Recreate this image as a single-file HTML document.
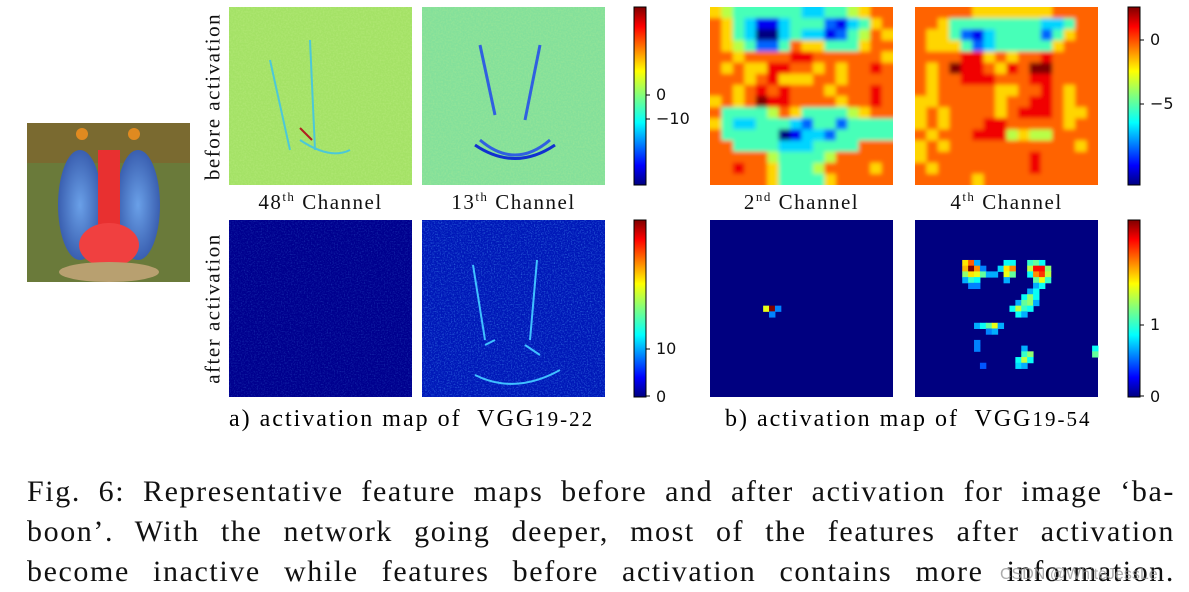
<!DOCTYPE html>
<html><head><meta charset="utf-8"><style>
body{margin:0;background:#fff;width:1189px;height:592px;overflow:hidden;position:relative;font-family:"Liberation Serif",serif}
.abs{position:absolute}
.lbl{font-size:21px;color:#111;white-space:nowrap;letter-spacing:1.5px}
.tk{font-family:"DejaVu Sans","Liberation Sans",sans-serif;font-size:16px;color:#111}
.cap{font-size:30px;color:#111;left:27px;width:1148px;text-align:justify;text-align-last:justify;white-space:nowrap;letter-spacing:1.6px;overflow:hidden}
</style></head><body>
<svg class="abs" style="left:0;top:0" width="1189" height="592" id="svg">
<defs>
<filter id="noise1" x="0" y="0" width="100%" height="100%"><feTurbulence type="fractalNoise" baseFrequency="0.6" numOctaves="2" seed="3"/><feColorMatrix type="matrix" values="0 0 0 0 0.6  0 0 0 0 0.9  0 0 0 0 0.3  0 0 0 1.2 -0.45"/></filter>
<filter id="noise2" x="0" y="0" width="100%" height="100%"><feTurbulence type="fractalNoise" baseFrequency="0.7" numOctaves="2" seed="7"/><feColorMatrix type="matrix" values="0 0 0 0 0.1  0 0 0 0 0.45  0 0 0 0 1  0 0 0 1.6 -0.75"/></filter>
<linearGradient id="jet" x1="0" y1="1" x2="0" y2="0">
<stop offset="0" stop-color="#00007f"/><stop offset="0.11" stop-color="#0000ff"/><stop offset="0.35" stop-color="#00ffff"/><stop offset="0.5" stop-color="#7fff7f"/><stop offset="0.64" stop-color="#ffff00"/><stop offset="0.89" stop-color="#ff0000"/><stop offset="1" stop-color="#7f0000"/></linearGradient>
<radialGradient id="cheek" cx="0.5" cy="0.5" r="0.5"><stop offset="0" stop-color="#6aa0e8"/><stop offset="1" stop-color="#3a5fb0"/></radialGradient>
<clipPath id="c3"><rect x="710" y="7" width="183" height="178"/></clipPath>
<clipPath id="c4"><rect x="915" y="7" width="183" height="178"/></clipPath>
<filter id="soft"><feGaussianBlur stdDeviation="2.2"/></filter>
</defs>
<g>
<rect x="27" y="123" width="163" height="159" fill="#6a7a3a"/>
<rect x="27" y="123" width="163" height="40" fill="#7a6a30"/>
<ellipse cx="80" cy="205" rx="22" ry="55" fill="url(#cheek)"/>
<ellipse cx="138" cy="205" rx="22" ry="55" fill="url(#cheek)"/>
<rect x="98" y="150" width="22" height="90" fill="#e83030"/>
<ellipse cx="109" cy="245" rx="30" ry="22" fill="#f04040"/>
<circle cx="82" cy="134" r="6" fill="#e08a20"/><circle cx="134" cy="134" r="6" fill="#e08a20"/>
<ellipse cx="109" cy="272" rx="50" ry="10" fill="#b8a070"/>
</g>
<g>
<rect x="229" y="7" width="183" height="178" fill="#a4e266"/>
<rect x="229" y="7" width="183" height="178" filter="url(#noise1)" opacity="0.5"/>
<path d="M270 60 L290 150 M310 40 L315 150 M300 140 Q330 160 350 150" stroke="#4cc8d8" stroke-width="2" fill="none"/>
<path d="M300 128 L312 140" stroke="#b02020" stroke-width="2"/>
</g>
<g>
<rect x="422" y="7" width="183" height="178" fill="#84e09a"/>
<rect x="422" y="7" width="183" height="178" filter="url(#noise1)" opacity="0.4"/>
<path d="M480 45 L495 115 M540 45 L525 120 M480 140 Q515 170 550 140" stroke="#3060e0" stroke-width="3" fill="none"/>
<path d="M475 145 Q515 172 555 145" stroke="#1030d0" stroke-width="3" fill="none"/>
</g>
<g>
<rect x="229" y="220" width="183" height="177" fill="#00008e"/>
<rect x="229" y="220" width="183" height="177" filter="url(#noise2)" opacity="0.35"/>
</g>
<g>
<rect x="422" y="220" width="183" height="177" fill="#0018b8"/>
<rect x="422" y="220" width="183" height="177" filter="url(#noise2)" opacity="0.7"/>
<path d="M473 265 L485 340 M537 260 L530 340 M485 345 L495 340 M525 345 L540 355 M475 375 Q515 395 560 370" stroke="#40c0ff" stroke-width="2" fill="none"/>
</g>
<rect x="634" y="7" width="12" height="178" fill="url(#jet)" stroke="#000" stroke-width="1"/>
<rect x="634" y="220" width="12" height="177" fill="url(#jet)" stroke="#000" stroke-width="1"/>
<rect x="1128" y="7" width="12" height="178" fill="url(#jet)" stroke="#000" stroke-width="1"/>
<rect x="1128" y="220" width="12" height="177" fill="url(#jet)" stroke="#000" stroke-width="1"/>
<g stroke="#000" stroke-width="1">
<line x1="646" y1="95" x2="650" y2="95"/><line x1="646" y1="119" x2="650" y2="119"/>
<line x1="646" y1="349" x2="650" y2="349"/><line x1="646" y1="396" x2="650" y2="396"/>
<line x1="1140" y1="40" x2="1144" y2="40"/><line x1="1140" y1="104" x2="1144" y2="104"/>
<line x1="1140" y1="325" x2="1144" y2="325"/><line x1="1140" y1="396" x2="1144" y2="396"/>
</g>
<g clip-path="url(#c3)"><g id="hm3" filter="url(#soft)"></g></g>
<g clip-path="url(#c4)"><g id="hm4" filter="url(#soft)"></g></g>
<g id="hm"></g>
</svg>

<div class="abs lbl" style="left:113px;top:84px;transform:rotate(-90deg);transform-origin:center;width:200px;text-align:center">before activation</div>
<div class="abs lbl" style="left:113px;top:296px;transform:rotate(-90deg);transform-origin:center;width:200px;text-align:center">after activation</div>

<div class="abs lbl" style="left:229px;top:189px;width:183px;text-align:center">48<sup style="font-size:13px">th</sup> Channel</div>
<div class="abs lbl" style="left:422px;top:189px;width:183px;text-align:center">13<sup style="font-size:13px">th</sup> Channel</div>
<div class="abs lbl" style="left:710px;top:189px;width:183px;text-align:center">2<sup style="font-size:13px">nd</sup> Channel</div>
<div class="abs lbl" style="left:915px;top:189px;width:183px;text-align:center">4<sup style="font-size:13px">th</sup> Channel</div>

<div class="abs tk" style="left:656px;top:85px">0</div>
<div class="abs tk" style="left:656px;top:109px">−10</div>
<div class="abs tk" style="left:656px;top:339px">10</div>
<div class="abs tk" style="left:656px;top:387px">0</div>
<div class="abs tk" style="left:1150px;top:30px">0</div>
<div class="abs tk" style="left:1150px;top:94px">−5</div>
<div class="abs tk" style="left:1150px;top:315px">1</div>
<div class="abs tk" style="left:1150px;top:387px">0</div>

<div class="abs" style="left:229px;top:406px;font-size:24px;letter-spacing:2px;white-space:nowrap">a) activation map of&nbsp; VGG<span style="font-size:21px">19-22</span></div>
<div class="abs" style="left:725px;top:406px;font-size:24px;letter-spacing:2px;width:374px;overflow:hidden;white-space:nowrap">b) activation map of&nbsp; VGG<span style="font-size:21px">19-54</span></div>

<div class="abs cap" style="top:475px">Fig. 6: Representative feature maps before and after activation for image ‘ba-</div>
<div class="abs cap" style="top:515px">boon’. With the network going deeper, most of the features after activation</div>
<div class="abs cap" style="top:555px">become inactive while features before activation contains more information.</div>
<div class="abs" style="left:1000px;top:566px;font-family:'Liberation Sans',sans-serif;font-size:16px;color:rgba(150,150,150,0.8)">CSDN @WhiteJessLe</div>

<script>
const map2nd=["6544444433445677","7643113444213467","7643003433124576","7654224766444677","7767777887777776","7676688776767787","7776786667767777","7767878777677787","6767988777767787","7444457644445677","6433444324424444","7444440133244444","7744443334444777","7777754444577777","7787764445777767","7777764444677777"];
const map4th=["7777766666667777","7764444444433477","7664213444424677","7666423444446777","7777886767787777","7679887687997777","7677888777887777","7677777667787677","6677777677887677","6767777678887667","6767778877777677","7677788856557777","6767777777777767","6777777777877777","7677777777877777","7777767777777777"];
const after2nd=[[15,9,.55],[15,10,1],[15,11,.15],[16,10,.15]];
const after4th=[[7,8,.6],[7,9,.75],[7,10,.2],[8,8,.65],[8,9,1],[8,10,.7],[8,11,.15],[9,8,.45],[9,9,.6],[9,10,.55],[9,11,.4],[9,12,.2],[9,13,.2],[10,8,.2],[10,9,.35],[10,10,.3],[11,9,.15],[11,10,.15],
[7,15,.3],[7,16,.3],[8,14,.25],[8,15,.6],[8,16,.7],[9,15,.55],[9,16,.4],[10,15,.2],
[7,19,.35],[7,20,.4],[7,21,.3],[8,19,.5],[8,20,.85],[8,21,.85],[8,22,.45],[9,19,.3],[9,20,.7],[9,21,.8],[9,22,.5],[10,20,.4],[10,21,.55],[10,22,.35],[11,20,.2],[11,21,.3],
[12,19,.2],[12,20,.3],[13,18,.3],[13,19,.45],[13,20,.3],[14,17,.2],[14,18,.4],[14,19,.45],[14,20,.2],[15,16,.3],[15,17,.5],[15,18,.35],[15,19,.3],[16,17,.3],[16,18,.2],
[18,10,.2],[18,11,.3],[18,12,.4],[18,13,.55],[18,14,.2],[19,12,.15],[19,13,.2],
[22,18,.2],[23,18,.35],[23,19,.45],[24,17,.3],[24,18,.5],[24,19,.3],[25,17,.25],[25,18,.2],[21,10,.15],[22,10,.15],[25,11,.1],[22,30,.3],[23,30,.4]];
function jet(v){v=Math.max(0,Math.min(1,v));
 const r=Math.max(0,Math.min(1,1.5-Math.abs(4*v-3))),g=Math.max(0,Math.min(1,1.5-Math.abs(4*v-2))),b=Math.max(0,Math.min(1,1.5-Math.abs(4*v-1)));
 return `rgb(${Math.round(r*255)},${Math.round(g*255)},${Math.round(b*255)})`;}
const NS="http://www.w3.org/2000/svg";
function cell(parent,x,y,w,h,c,name){const r=document.createElementNS(NS,'rect');r.setAttribute('x',x);r.setAttribute('y',y);r.setAttribute('width',w+0.5);r.setAttribute('height',h+0.5);r.setAttribute('fill',c);


parent.appendChild(r);}
function grid(parent,rows,x0,y0,W,H,name){const n=rows.length,m=rows[0].length,cw=W/m,ch=H/n;
 rows.forEach((row,i)=>{for(let j=0;j<m;j++){
  let x=x0+j*cw,y=y0+i*ch,w=cw,h=ch;
  if(j===0){x-=6;w+=6;} if(j===m-1){w+=6;} if(i===0){y-=6;h+=6;} if(i===n-1){h+=6;}
  cell(parent,x,y,w,h,jet(+row[j]/9),name);}});}
function sparse(parent,pts,x0,y0,W,H,name){cell(parent,x0,y0,W-0.5,H-0.5,jet(0),name+'-bg');const cw=W/31,ch=H/31;
 pts.forEach(p=>cell(parent,x0+p[1]*cw,y0+p[0]*ch,cw,ch,jet(0.12+p[2]*0.88),name));}
grid(document.getElementById('hm3'),map2nd,710,7,183,178,'map-2nd-before-cell');
grid(document.getElementById('hm4'),map4th,915,7,183,178,'map-4th-before-cell');
const hm=document.getElementById('hm');
sparse(hm,after2nd,710,220,183,177,'map-2nd-after-cell');
sparse(hm,after4th,915,220,183,177,'map-4th-after-cell');
</script>
</body></html>
